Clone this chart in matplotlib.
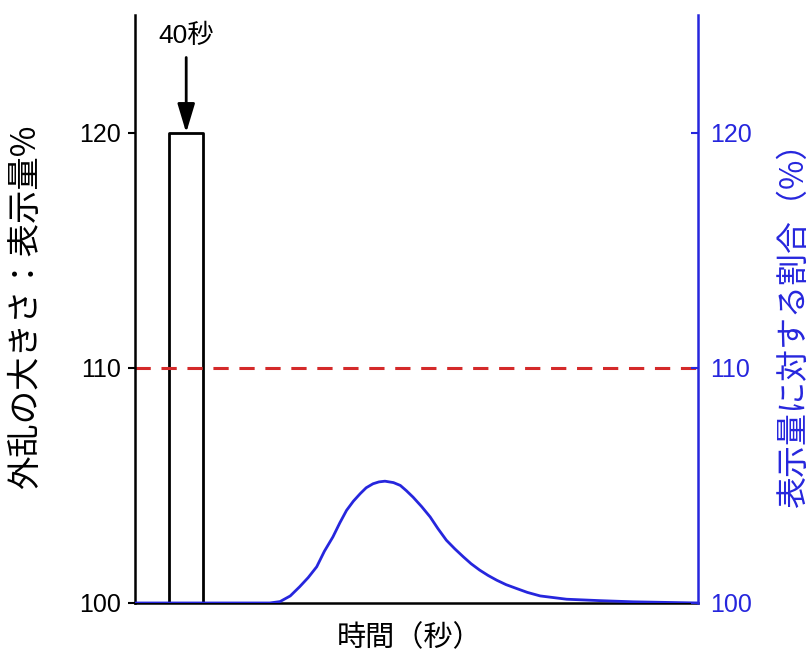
import matplotlib
matplotlib.use("Agg")
import matplotlib.pyplot as plt

plt.rcParams['font.family'] = ['Liberation Sans', 'Noto Sans CJK JP', 'DejaVu Sans']

# data (x in seconds, y in %)
pulse_x = [40, 40, 80, 80]
pulse_y = [100, 120, 120, 100]
limit_y = 110
resp_x = [0, 158, 170, 182, 193, 203, 213, 222, 232, 240, 248, 256, 264, 271, 279,
          286, 293, 303, 311, 318, 326, 336, 346, 355, 365, 375, 385, 394, 404,
          414, 424, 435, 447, 460, 475, 506, 545, 584, 660]
resp_y = [100.0, 100.0, 100.06, 100.3, 100.69, 101.08, 101.54, 102.2, 102.81,
          103.4, 103.94, 104.33, 104.65, 104.9, 105.07, 105.15, 105.18, 105.12,
          105.0, 104.78, 104.5, 104.1, 103.66, 103.17, 102.67, 102.3, 101.96,
          101.67, 101.4, 101.17, 100.97, 100.78, 100.62, 100.45, 100.3, 100.16,
          100.1, 100.05, 100.0]
yticks = [100, 110, 120]
BLUE = "#2626dd"
RED = "#d42a2a"

fig = plt.figure(figsize=(8.1, 6.59), dpi=100)
ax = fig.add_axes([0.1667, 0.085, 0.695, 0.892])
ax2 = ax.twinx()

ax.plot(pulse_x, pulse_y, color="k", lw=2)
ax.axhline(limit_y, color=RED, lw=2.2, ls=(0, (5, 3.5)))
ax2.plot(resp_x, resp_y, color=BLUE, lw=2)

ax.annotate("", xy=(60, 120), xytext=(60, 123.2),
            arrowprops=dict(arrowstyle="-|>,head_length=1.1,head_width=0.33",
                            mutation_scale=16, color="k", lw=2, shrinkA=0, shrinkB=0))
ax.text(60, 124.1, "40秒", ha="center", va="center", fontsize=19)

for a in (ax, ax2):
    a.set_xlim(0, 660)
    a.set_ylim(100, 125)
    a.set_yticks(yticks)
    a.spines["top"].set_visible(False)
ax.set_xticks([])
ax2.set_xticks([])

for s in ("left", "bottom"):
    ax.spines[s].set_linewidth(1.8)
ax.spines["right"].set_visible(False)
ax2.spines["left"].set_visible(False)
ax2.spines["bottom"].set_visible(False)
ax2.spines["right"].set_color(BLUE)
ax2.spines["right"].set_linewidth(1.8)

ax.tick_params(axis="y", direction="out", length=5, width=1.5, pad=5, labelsize=18)
ax2.tick_params(axis="y", direction="in", length=5, width=1.5, pad=9, labelsize=18,
                colors=BLUE)

ax.set_ylabel("外乱の大きさ：表示量%", fontsize=24, family=["Noto Sans CJK JP"])
ax.yaxis.set_label_coords(-0.163, 0.503)
ax2.set_ylabel("表示量に対する割合（%）", fontsize=23, color=BLUE,
               family=["Noto Sans CJK JP"], rotation=90)
ax2.yaxis.set_label_coords(1.143, 0.486)
ax.set_xlabel("時間（秒）", fontsize=21, family=["Noto Sans CJK JP"])
ax.xaxis.set_label_coords(0.488, -0.035)

fig.savefig("out.png", dpi=100)
